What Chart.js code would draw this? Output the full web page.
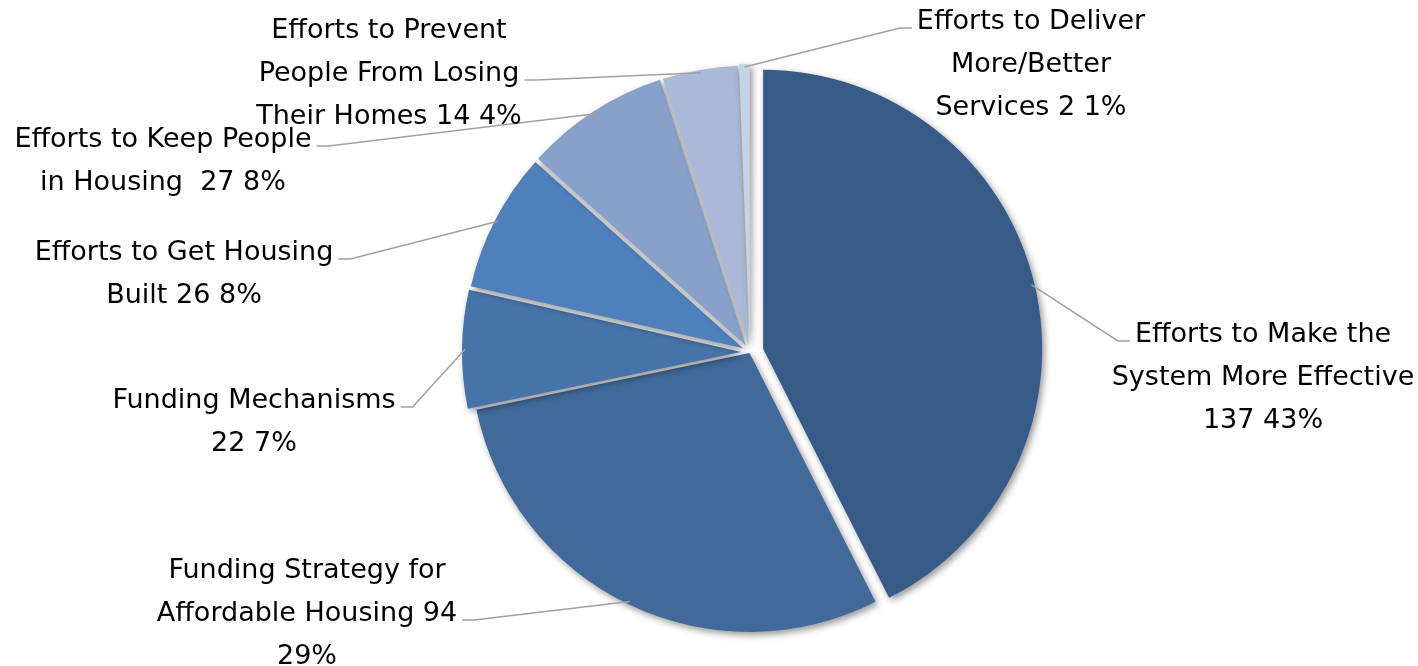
<!DOCTYPE html>
<html>
<head>
<meta charset="utf-8">
<script src="https://cdn.jsdelivr.net/npm/chart.js@4.4.1/dist/chart.umd.min.js"></script>
<style>
html,body{margin:0;padding:0;background:#fff;}
#wrap{width:1418px;height:666px;position:relative;}
</style>
</head>
<body>
<div id="wrap"><canvas id="c"></canvas></div>
<script>
// ---- data ----
const categories = [
  'Efforts to Make the System More Effective',
  'Funding Strategy for Affordable Housing',
  'Funding Mechanisms',
  'Efforts to Get Housing Built',
  'Efforts to Keep People in Housing',
  'Efforts to Prevent People From Losing Their Homes',
  'Efforts to Deliver More/Better Services'
];
const values = [137, 94, 22, 26, 27, 14, 2];
const percentLabels = ['43%', '29%', '7%', '8%', '8%', '4%', '1%'];
const labelLines = [
  ['Efforts to Make the', 'System More Effective', '137 43%'],
  ['Funding Strategy for', 'Affordable Housing 94', '29%'],
  ['Funding Mechanisms', '22 7%'],
  ['Efforts to Get Housing', 'Built 26 8%'],
  ['Efforts to Keep People', 'in Housing  27 8%'],
  ['Efforts to Prevent', 'People From Losing', 'Their Homes 14 4%'],
  ['Efforts to Deliver', 'More/Better', 'Services 2 1%']
];

// ---- style / layout ----
const colors = ['#365B87', '#416A9B', '#4674A9', '#4E80BC', '#87A1CB', '#AAB9D8', '#C6D2E6'];
const explode = [13.5, 1, 9, 8, 8, 7.5, 9];
const labelLayout = [
  {cx: 1263, y: 342, attach: 0, side: 'left'},
  {cx: 307,  y: 578, attach: 1, side: 'right'},
  {cx: 254,  y: 408, attach: 0, side: 'right'},
  {cx: 184,  y: 260, attach: 0, side: 'right'},
  {cx: 163,  y: 147, attach: 0, side: 'right'},
  {cx: 389,  y: 38,  attach: 1, side: 'right'},
  {cx: 1031, y: 29,  attach: 0, side: 'left'}
];
const FONT = '27px "DejaVu Sans", sans-serif';
const LINE_H = 43;

const piePlugin = {
  id: 'pieDecor',
  afterDatasetUpdate(chart, args) {
    const meta = chart.getDatasetMeta(args.index);
    meta.data.forEach((arc, i) => {
      const mid = (arc.startAngle + arc.endAngle) / 2;
      arc.x += Math.cos(mid) * explode[i];
      arc.y += Math.sin(mid) * explode[i];
    });
  },
  beforeDatasetsDraw(chart) {
    const ctx = chart.ctx;
    ctx.save();
    ctx.shadowColor = 'rgba(0,0,0,0.42)';
    ctx.shadowBlur = 7;
    ctx.shadowOffsetX = 2.5;
    ctx.shadowOffsetY = 3;
  },
  afterDatasetsDraw(chart) {
    const ctx = chart.ctx;
    ctx.restore();
    const meta = chart.getDatasetMeta(0);
    ctx.save();
    ctx.font = FONT;
    // leaders
    ctx.strokeStyle = '#A0A0A0';
    ctx.lineWidth = 1.5;
    meta.data.forEach((arc, i) => {
      const L = labelLayout[i];
      const lines = labelLines[i];
      const mid = (arc.startAngle + arc.endAngle) / 2;
      const R = arc.outerRadius - 3;
      const sx = arc.x + Math.cos(mid) * R;
      const sy = arc.y + Math.sin(mid) * R;
      const w = ctx.measureText(lines[L.attach]).width;
      const ay = L.y + L.attach * LINE_H - 1;
      let ex, hx;
      if (L.side === 'left') { ex = L.cx - w / 2 - 5; hx = ex - 12; }
      else { ex = L.cx + w / 2 + 5; hx = ex + 12; }
      ctx.beginPath();
      ctx.moveTo(sx, sy);
      ctx.lineTo(hx, ay);
      ctx.lineTo(ex, ay);
      ctx.stroke();
    });
    // text
    ctx.fillStyle = '#000';
    ctx.textAlign = 'center';
    ctx.textBaseline = 'alphabetic';
    meta.data.forEach((arc, i) => {
      const L = labelLayout[i];
      labelLines[i].forEach((t, k) => ctx.fillText(t, L.cx, L.y + k * LINE_H));
    });
    ctx.restore();
  }
};

new Chart(document.getElementById('c'), {
  type: 'pie',
  data: {
    labels: categories,
    datasets: [{
      data: values,
      backgroundColor: colors,
      borderWidth: 0,
      radius: 279
    }]
  },
  options: {
    responsive: true,
    maintainAspectRatio: false,
    animation: false,
    events: [],
    layout: {padding: {left: 82, right: 0, top: 38, bottom: 0}},
    plugins: {legend: {display: false}, tooltip: {enabled: false}}
  },
  plugins: [piePlugin]
});
</script>
</body>
</html>
